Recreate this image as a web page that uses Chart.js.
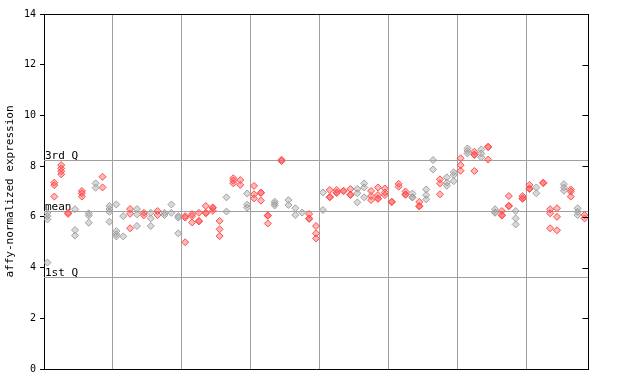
<!DOCTYPE html>
<html><head><meta charset="utf-8">
<script src="https://cdn.jsdelivr.net/npm/chart.js@4/dist/chart.umd.min.js"></script>
<style>html,body{margin:0;padding:0;background:#fff}#wrap{width:640px;height:384px}</style>
</head><body><div id="wrap"><canvas id="c" width="640" height="384"></canvas></div>
<script>
// replicate values per sample (in order along x)
const sampleValues = [
  [6.15, 6.03, 5.9, 4.2],
  [7.35, 7.25, 6.8],
  [8.04, 7.91, 7.8, 7.68],
  [6.16, 6.12],
  [6.3, 5.48, 5.26],
  [7.02, 6.93, 6.8],
  [6.14, 6.05, 5.77],
  [7.32, 7.15],
  [7.58, 7.16],
  [6.43, 6.31, 6.2, 5.81],
  [6.49, 5.44, 5.32, 5.23],
  [6.03, 5.23],
  [6.31, 6.12, 5.55],
  [6.31, 6.1, 5.64],
  [6.16, 6.06],
  [6.16, 5.94, 5.64],
  [6.23, 6.07],
  [6.16, 6.07],
  [6.49, 6.16],
  [6.03, 5.97, 5.35],
  [6.03, 5.97, 5.0],
  [6.11, 6.03, 5.78],
  [6.16, 5.84, 5.82],
  [6.43, 6.16, 6.14],
  [6.37, 6.35, 6.24],
  [5.84, 5.51, 5.24],
  [6.77, 6.21],
  [7.52, 7.43, 7.32],
  [7.45, 7.26],
  [6.92, 6.48, 6.37],
  [7.22, 6.89, 6.73],
  [6.96, 6.94, 6.64],
  [6.06, 6.04, 5.74],
  [6.6, 6.52, 6.45],
  [8.25, 8.2],
  [6.66, 6.47],
  [6.34, 6.07],
  [6.17],
  [6.11, 5.94, 5.92],
  [5.64, 5.35, 5.15],
  [6.96, 6.27],
  [7.06, 6.79, 6.77],
  [7.06, 6.96, 6.94],
  [7.03, 7.01],
  [7.1, 6.88, 6.86],
  [7.1, 6.93, 6.57],
  [7.32, 7.16, 6.77],
  [7.02, 6.82, 6.66],
  [7.16, 6.86, 6.73, 6.71],
  [7.12, 6.96, 6.86],
  [6.6, 6.58],
  [7.3, 7.19],
  [7.0, 6.89, 6.87],
  [6.92, 6.78, 6.76],
  [6.59, 6.43, 6.41],
  [7.08, 6.86, 6.69],
  [8.24, 7.87],
  [7.48, 7.32, 6.89],
  [7.56, 7.35, 7.23],
  [7.76, 7.65, 7.41],
  [8.31, 8.04, 7.82],
  [8.7, 8.6, 8.5],
  [8.57, 8.46, 8.44, 7.81],
  [8.66, 8.5, 8.35],
  [8.77, 8.75, 8.26],
  [6.3, 6.18, 6.16],
  [6.23, 6.07, 6.05],
  [6.82, 6.44, 6.42],
  [6.23, 5.94, 5.7],
  [6.82, 6.73, 6.71],
  [7.26, 7.12, 7.1],
  [7.16, 6.93],
  [7.35, 7.33],
  [6.3, 6.14, 5.55],
  [6.34, 6.0, 5.47],
  [7.29, 7.16, 7.03],
  [7.08, 7.0, 6.8],
  [6.34, 6.2, 6.07],
  [6.07, 5.94]
];
// colour group of each sample: g = gray, r = red
const sampleGroup = [
  'g','r','r','r','g','r','g','g','r','g',
  'g','g','r','g','r','g','r','g','g','g',
  'r','r','r','r','r','r','g','r','r','g',
  'r','r','r','g','r','g','g','g','r','r',
  'g','r','r','r','r','g','g','r','r','r',
  'r','r','r','g','r','g','g','r','g','g',
  'r','g','r','g','r','g','r','r','g','r',
  'r','g','r','r','r','g','r','g','r'
];
const groupBoundaries = [9.5, 19.5, 29.5, 39.5, 49.5, 59.5, 69.5];
const yTicks = [0, 2, 4, 6, 8, 10, 12, 14];
const refLineLabels = ['1st Q', 'mean', '3rd Q'];
const refLineValues = [3.63, 6.23, 8.24];

const colors = { g: '#a0a0a0', r: '#ff4d4d' };
const fills = { g: 'rgba(160,160,160,0.4)', r: 'rgba(255,77,77,0.4)' };

function buildData(grp) {
  const pts = [];
  sampleValues.forEach((vals, i) => {
    if (sampleGroup[i] !== grp) return;
    vals.forEach(v => pts.push({ x: i, y: v }));
  });
  return pts;
}

const frame = {
  id: 'frame',
  beforeDatasetsDraw(chart) {
    const { ctx, chartArea: a, scales } = chart;
    const y = scales.y;
    ctx.save();
    ctx.strokeStyle = '#a0a0a0';
    ctx.lineWidth = 1;
    ctx.font = '11px "DejaVu Sans Mono", monospace';
    ctx.fillStyle = '#000';
    ctx.textBaseline = 'bottom';
    ctx.textAlign = 'left';
    refLineValues.forEach((v, k) => {
      const py = Math.round(y.getPixelForValue(v)) + 0.5;
      ctx.beginPath(); ctx.moveTo(a.left, py); ctx.lineTo(a.right, py); ctx.stroke();
      ctx.fillText(refLineLabels[k], a.left + 1, py + 1);
    });
    ctx.restore();
  },
  afterDraw(chart) {
    const { ctx, chartArea: a, scales } = chart;
    const y = scales.y;
    ctx.save();
    ctx.strokeStyle = '#000';
    ctx.lineWidth = 1;
    const r = Math.round(a.right) + 0.5, t = Math.round(a.top) + 0.5;
    ctx.beginPath(); ctx.moveTo(a.left, t); ctx.lineTo(r, t); ctx.stroke();
    ctx.beginPath(); ctx.moveTo(r, a.top); ctx.lineTo(r, a.bottom); ctx.stroke();
    yTicks.forEach(v => {
      const py = Math.round(y.getPixelForValue(v)) + 0.5;
      ctx.beginPath(); ctx.moveTo(r - 6, py); ctx.lineTo(r, py); ctx.stroke();
    });
    ctx.restore();
  }
};

new Chart(document.getElementById('c'), {
  type: 'scatter',
  plugins: [frame],
  data: {
    datasets: ['g', 'r'].map(grp => ({
      data: buildData(grp),
      pointStyle: 'rectRot',
      pointRadius: 3.5,
      pointHoverRadius: 3.5,
      borderWidth: 1,
      borderColor: colors[grp],
      backgroundColor: fills[grp]
    }))
  },
  options: {
    responsive: false,
    animation: false,
    events: [],
    layout: { padding: { left: 4, top: 14, right: 52, bottom: 15 } },
    plugins: { legend: { display: false }, tooltip: { enabled: false } },
    scales: {
      x: {
        type: 'linear',
        min: -0.5,
        max: sampleValues.length - 0.5,
        afterBuildTicks(s) { s.ticks = groupBoundaries.map(v => ({ value: v })); },
        afterFit(s) { s.height = 0; },
        ticks: { display: false },
        grid: { color: '#a0a0a0', lineWidth: 1, drawTicks: false },
        border: { display: true, color: '#000', width: 1 }
      },
      y: {
        min: 0,
        max: 14,
        afterBuildTicks(s) { s.ticks = yTicks.map(v => ({ value: v })); },
        afterFit(s) { s.width = 40; },
        ticks: {
          color: '#000',
          font: { family: '"DejaVu Sans Mono", monospace', size: 10 },
          padding: 4
        },
        grid: { drawOnChartArea: false, drawTicks: true, tickLength: 4, color: '#000' },
        border: { display: true, color: '#000', width: 1 },
        title: {
          display: true,
          text: 'affy-normalized expression',
          color: '#000',
          font: { family: '"DejaVu Sans Mono", monospace', size: 11 },
          padding: { top: 0, bottom: 0 }
        }
      }
    }
  }
});
</script>
</body></html>
